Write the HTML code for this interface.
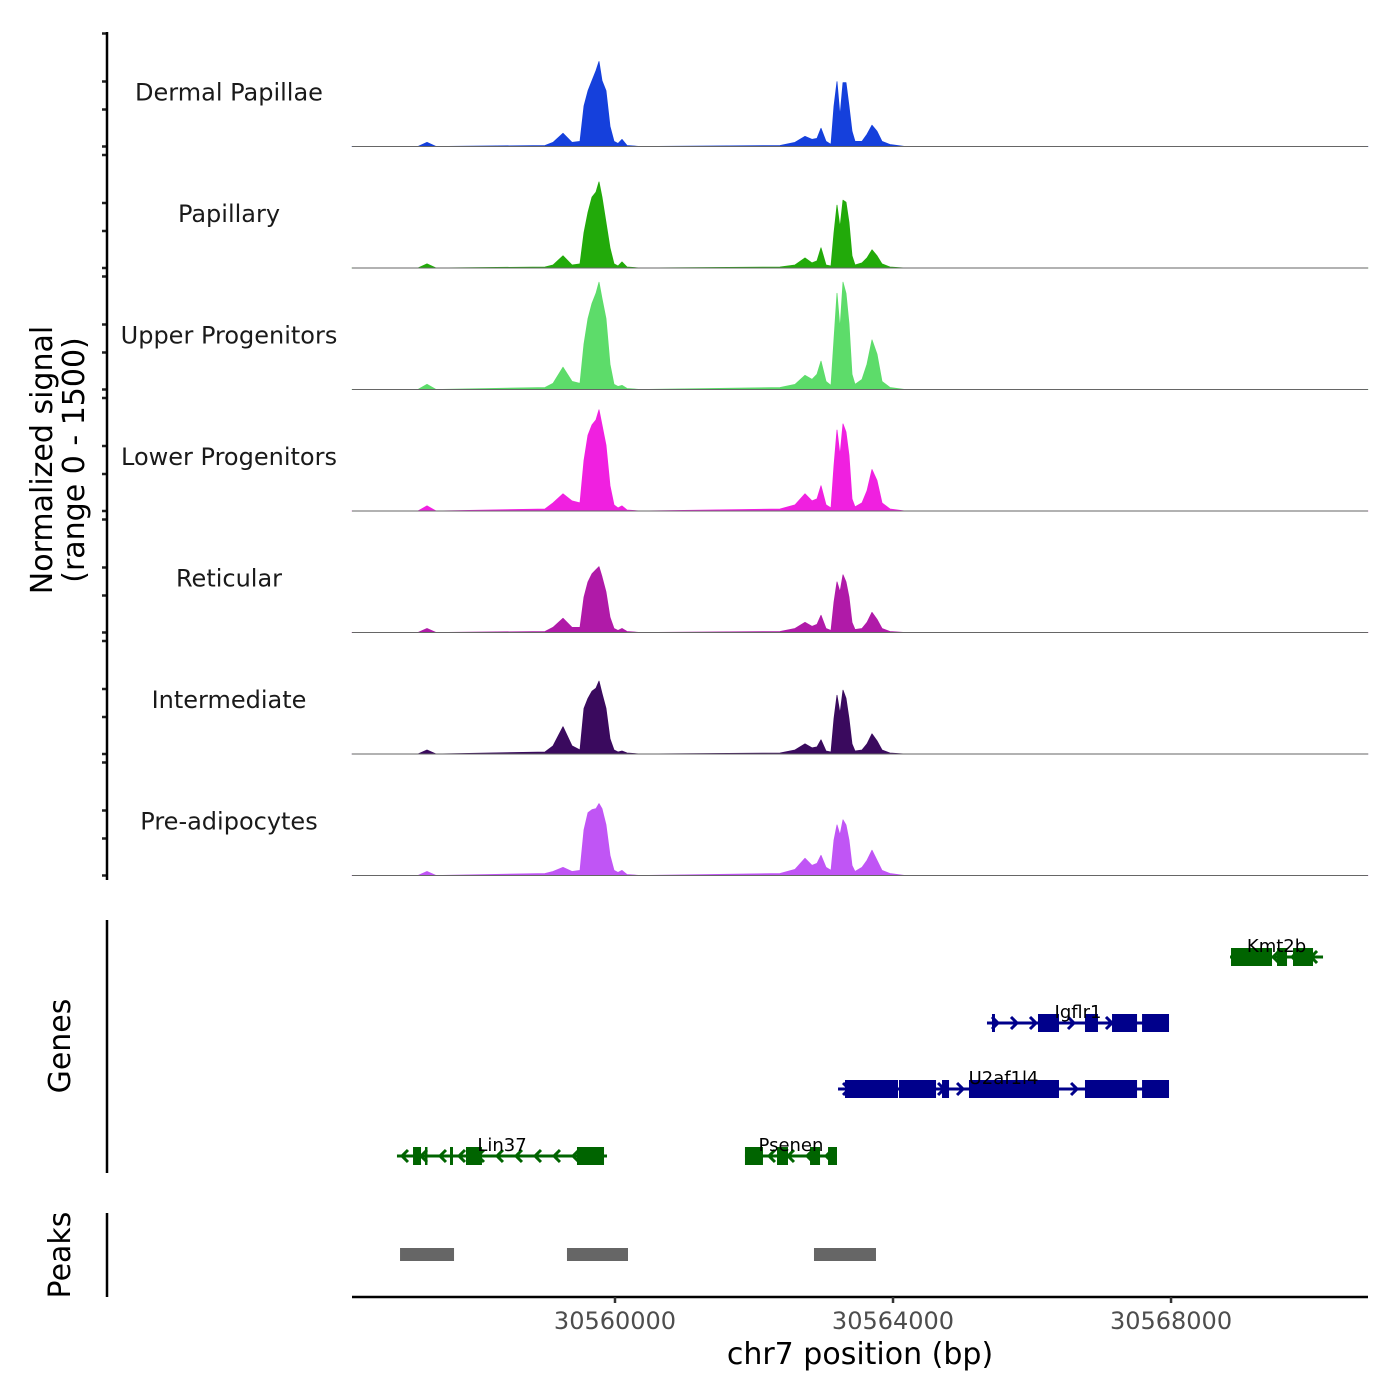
<!DOCTYPE html>
<html><head><meta charset="utf-8"><style>
html,body{margin:0;padding:0;background:#fff;}
svg{display:block;font-family:"DejaVu Sans","Liberation Sans",sans-serif;}
</style></head><body>
<svg id="chart" width="1400" height="1400" viewBox="0 0 1400 1400"></svg>
<script>
// ---- data ----
const positions = [30556216,30557166,30557295,30557425,30558993,30559108,30559252,30559381,30559496,30559554,30559612,30559669,30559727,30559770,30559813,30559871,30559928,30559986,30560043,30560101,30560173,30560360,30562374,30562590,30562734,30562834,30562906,30562964,30563036,30563108,30563151,30563194,30563237,30563281,30563324,30563367,30563410,30563453,30563554,30563626,30563698,30563770,30563842,30563957,30564173,30570834];
const trackNames = ["Dermal Papillae","Papillary","Upper Progenitors","Lower Progenitors","Reticular","Intermediate","Pre-adipocytes"];
const trackColors = ["#1540dc","#22aa0a","#5ddc6a","#f020e0","#b01aa8","#3a0a5e","#c055f5"];
const dermalValues = [0,0,4,0,1,4,13,4,5,40,55,65,75,84,65,55,20,5,3,7,1,0,1,4,10,7,8,18,5,2,40,64,30,63,63,40,15,5,5,12,21,15,5,2,0,0];
const papillaryValues = [0,0,4,0,1,3,12,3,4,35,55,70,75,85,70,45,20,4,2,6,1,0,1,3,10,5,7,20,3,2,35,62,40,67,65,45,12,3,5,10,18,12,4,1,0,0];
const upperValues = [0,0,5,0,2,6,22,8,6,45,70,85,95,106,90,70,25,5,3,4,1,0,2,5,14,10,15,28,8,4,50,95,60,106,95,65,15,5,10,25,49,35,8,2,0,0];
const lowerValues = [0,0,5,0,2,8,17,10,8,50,75,85,90,100,85,65,25,6,3,5,1,0,2,6,17,10,12,25,6,3,45,80,55,86,78,55,12,4,8,20,41,30,8,2,0,0];
const reticularValues = [0,0,4,0,1,5,14,5,5,35,50,58,62,65,55,40,15,4,2,4,1,0,1,4,10,6,8,17,4,2,30,50,40,57,50,35,10,3,4,10,20,13,4,1,0,0];
const intermediateValues = [0,0,4,0,2,8,27,8,4,45,55,62,65,72,60,45,15,4,2,3,1,0,1,4,10,6,7,14,3,2,35,58,40,63,55,35,10,3,4,10,20,13,4,1,0,0];
const preadipoValues = [0,0,4,0,2,4,8,4,5,45,62,65,66,71,66,50,20,5,3,5,1,0,2,6,17,10,12,20,8,5,35,50,40,55,50,35,10,4,8,15,25,15,5,2,0,0];
const trackValues = [dermalValues,papillaryValues,upperValues,lowerValues,reticularValues,intermediateValues,preadipoValues];
const xTicks = [30560000,30564000,30568000];
const peakStarts = [30556907,30559309,30562863];
const peakEnds = [30557684,30560187,30563755];
const geneNames = ["Kmt2b","Igflr1","U2af1l4","Lin37","Psenen"];
const geneStrands = [-1,1,1,-1,-1];
const geneRows = [0,1,2,3,3];
const geneStarts = [30568849,30565352,30563209,30556863,30561870];
const geneEnds = [30570187,30567971,30567971,30559885,30563194];
const geneExons = [
 [[30568863,30569453],[30569525,30569669],[30569755,30570043]],
 [[30565424,30565467],[30566086,30566388],[30566762,30566949],[30567151,30567511],[30567583,30567971]],
 [[30563309,30564072],[30564086,30564619],[30564705,30564806],[30565093,30566388],[30566762,30567511],[30567583,30567971]],
 [[30557094,30557209],[30557266,30557295],[30557626,30557669],[30557856,30558086],[30559453,30559842]],
 [[30561870,30562129],[30562331,30562489],[30562806,30562950],[30563065,30563194]]
];
const geneColors = ["#006400","#00008b","#00008b","#006400","#006400"];

// ---- scales ----
const X0=352,X1=1368,D0=30556216,D1=30570834;
const xs = bp => X0 + (bp-D0)/(D1-D0)*(X1-X0);
const trackTop0=25, trackH=121.5, yMax=120;
const baseY = i => trackTop0 + (i+1)*trackH;
const ys = (i,v) => baseY(i) - v/yMax*trackH;
const rowY = [957,1023,1089,1156];

const NS="http://www.w3.org/2000/svg";
const svg=document.getElementById('chart');
function mk(tag,attrs,parent){const e=document.createElementNS(NS,tag);for(const k in attrs)e.setAttribute(k,attrs[k]);(parent||svg).appendChild(e);return e;}

// ---- signal tracks ----
trackValues.forEach((vals,i)=>{
  const g=mk('g',{});
  
  
  const n=Math.min(vals.length,positions.length);
  let d='M'+xs(positions[0])+','+baseY(i);
  for(let k=0;k<n;k++) d+=' L'+xs(positions[k]).toFixed(1)+','+ys(i,vals[k]).toFixed(1);
  d+=' L'+xs(positions[n-1])+','+baseY(i)+' Z';
  const a=mk('path',{d:d,fill:trackColors[i],stroke:trackColors[i],'stroke-width':0.8,'stroke-linejoin':'round'},g);
  
  
  const b=mk('line',{x1:X0,x2:X1,y1:baseY(i),y2:baseY(i),stroke:'#666','stroke-width':1},g);
  
  
  const t=mk('text',{x:229,y:baseY(i)-46,'text-anchor':'middle','font-size':24,fill:'#1a1a1a'},g);
  t.textContent=trackNames[i];
  
  
  [0,37,65,113].forEach(o=>{
    const tk=mk('line',{x1:102,x2:107,y1:baseY(i)-o,y2:baseY(i)-o,stroke:'#222','stroke-width':2.5},g);
    
    
  });
});
let e=mk('line',{x1:107,x2:107,y1:32,y2:880,stroke:'#000','stroke-width':2.5});

e=mk('text',{transform:'translate(52,460) rotate(-90)','text-anchor':'middle','font-size':30,fill:'#000'});

e.innerHTML='<tspan x="0" dy="0">Normalized signal</tspan><tspan x="0" dy="32">(range 0 - 1500)</tspan>';

// ---- genes ----
e=mk('line',{x1:107,x2:107,y1:920,y2:1173,stroke:'#000','stroke-width':2.5});

e=mk('text',{transform:'translate(70,1046) rotate(-90)','text-anchor':'middle','font-size':30,fill:'#000'});
e.textContent='Genes';
geneNames.forEach((nm,gi)=>{
  const g=mk('g',{});
  
  
  const y=rowY[geneRows[gi]],c=geneColors[gi],s=geneStrands[gi];
  const xa=xs(geneStarts[gi]),xb=xs(geneEnds[gi]);
  mk('line',{x1:xa,x2:xb,y1:y,y2:y,stroke:c,'stroke-width':3},g);
  for(let x=xa+8;x<xb-4;x+=19){
    const p= s>0 ? `M${x-3},${y-6} L${x+3},${y} L${x-3},${y+6}` : `M${x+3},${y-6} L${x-3},${y} L${x+3},${y+6}`;
    mk('path',{d:p,fill:'none',stroke:c,'stroke-width':3},g);
  }
  geneExons[gi].forEach(ex=>{
    const r=mk('rect',{x:xs(ex[0]),y:y-9,width:Math.max(2.5,xs(ex[1])-xs(ex[0])),height:18,fill:c},g);
    
    
  });
  const t=mk('text',{x:(xa+xb)/2,y:y-5,'text-anchor':'middle','font-size':18,fill:'#000'},g);
  t.textContent=nm;
  
  
});
// ---- peaks ----
e=mk('line',{x1:107,x2:107,y1:1213,y2:1297,stroke:'#000','stroke-width':2.5});

e=mk('text',{transform:'translate(70,1255) rotate(-90)','text-anchor':'middle','font-size':30,fill:'#000'});
e.textContent='Peaks';
peakStarts.forEach((st,i)=>{
  const r=mk('rect',{x:xs(st),y:1248,width:xs(peakEnds[i])-xs(st),height:13,fill:'#666'});
  
  
});

// ---- x axis ----
e=mk('line',{x1:X0,x2:X1,y1:1297,y2:1297,stroke:'#000','stroke-width':2.5});

xTicks.forEach(v=>{
  const l=mk('line',{x1:xs(v),x2:xs(v),y1:1297,y2:1303,stroke:'#333','stroke-width':2.5});
  
  
  const t=mk('text',{x:xs(v),y:1329,'text-anchor':'middle','font-size':24,fill:'#4d4d4d'});
  t.textContent=String(v);
  
  
});
e=mk('text',{x:860,y:1364,'text-anchor':'middle','font-size':30,fill:'#000'});
e.textContent='chr7 position (bp)';
</script>
</body></html>
